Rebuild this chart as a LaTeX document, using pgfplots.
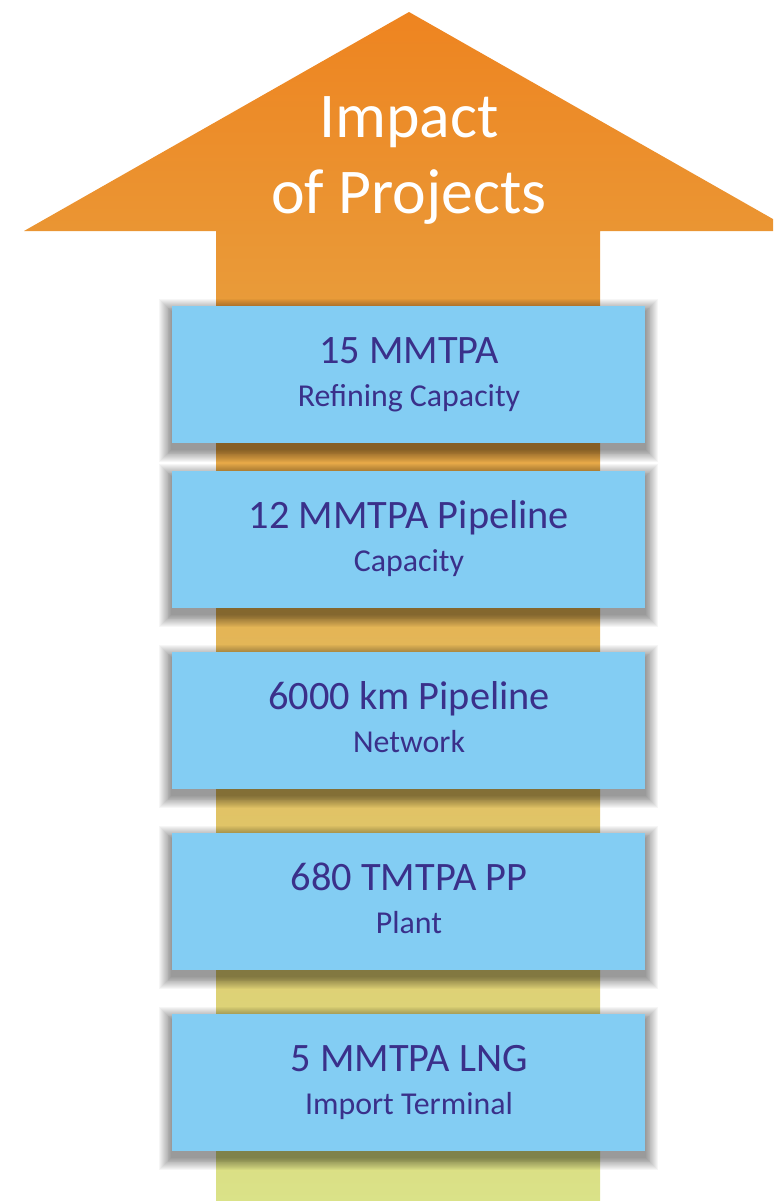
\documentclass[border=0pt]{standalone}
\usepackage{pgfplots}
\pgfplotsset{compat=1.18}
\usepackage{fontspec}
\setmainfont{Carlito}
\definecolor{boxblue}{RGB}{131,205,243}
\definecolor{txt}{RGB}{58,48,138}
\definecolor{arTop}{RGB}{238,132,32}
\definecolor{arMid}{RGB}{229,184,88}
\definecolor{arBot}{RGB}{218,226,136}
\begin{document}
\begin{tikzpicture}
\begin{axis}[scale only axis, width=773bp, height=1201bp,
  xmin=0, xmax=773, ymin=0, ymax=1201, y dir=reverse,
  hide axis, clip=true]
\path (rel axis cs:0,0) (rel axis cs:1,1);
% arrow
\addplot[draw=none, top color=arTop, middle color=arMid, bottom color=arBot]
  coordinates {(409,12) (794,231) (600,231) (600,1201) (216,1201) (216,231) (24,231)} -- cycle;
% soft shadows
\pgfplotsinvokeforeach{1,...,14}{
  \fill[black, opacity=0.034] (axis cs:{172-0.9*#1},{306+6-0.9*#1}) rectangle (axis cs:{645+0.9*#1},{443+6+0.9*#1});
  \fill[black, opacity=0.034] (axis cs:{172-0.9*#1},{471+6-0.9*#1}) rectangle (axis cs:{645+0.9*#1},{608+6+0.9*#1});
  \fill[black, opacity=0.034] (axis cs:{172-0.9*#1},{652+6-0.9*#1}) rectangle (axis cs:{645+0.9*#1},{789+6+0.9*#1});
  \fill[black, opacity=0.034] (axis cs:{172-0.9*#1},{833+6-0.9*#1}) rectangle (axis cs:{645+0.9*#1},{970+6+0.9*#1});
  \fill[black, opacity=0.034] (axis cs:{172-0.9*#1},{1014+6-0.9*#1}) rectangle (axis cs:{645+0.9*#1},{1151+6+0.9*#1});
}
% boxes
\addplot[draw=none, fill=boxblue] coordinates {(172,306) (645,306) (645,443) (172,443)} -- cycle;
\addplot[draw=none, fill=boxblue] coordinates {(172,471) (645,471) (645,608) (172,608)} -- cycle;
\addplot[draw=none, fill=boxblue] coordinates {(172,652) (645,652) (645,789) (172,789)} -- cycle;
\addplot[draw=none, fill=boxblue] coordinates {(172,833) (645,833) (645,970) (172,970)} -- cycle;
\addplot[draw=none, fill=boxblue] coordinates {(172,1014) (645,1014) (645,1151) (172,1151)} -- cycle;
% title
\node[anchor=base, text=white, font=\fontsize{64}{64}\selectfont, inner sep=0pt] at (axis cs:409,137) {Impact};
\node[anchor=base, text=white, font=\fontsize{64}{64}\selectfont, inner sep=0pt] at (axis cs:409,213) {of Projects};
% box texts
\tikzset{mainT/.style={anchor=base, text=txt, font=\fontsize{40.5}{40.5}\selectfont, inner sep=0pt},
         subT/.style={anchor=base, text=txt, font=\fontsize{32}{32}\selectfont, inner sep=0pt}}
\node[mainT] at (axis cs:409,363) {15 MMTPA};
\node[subT]  at (axis cs:409,406) {Refining Capacity};
\node[mainT] at (axis cs:409,528) {12 MMTPA Pipeline};
\node[subT]  at (axis cs:409,571) {Capacity};
\node[mainT] at (axis cs:409,709) {6000 km Pipeline};
\node[subT]  at (axis cs:409,752) {Network};
\node[mainT] at (axis cs:409,890) {680 TMTPA PP};
\node[subT]  at (axis cs:409,933) {Plant};
\node[mainT] at (axis cs:409,1071) {5 MMTPA LNG};
\node[subT]  at (axis cs:409,1114) {Import Terminal};
\end{axis}
\end{tikzpicture}
\end{document}
